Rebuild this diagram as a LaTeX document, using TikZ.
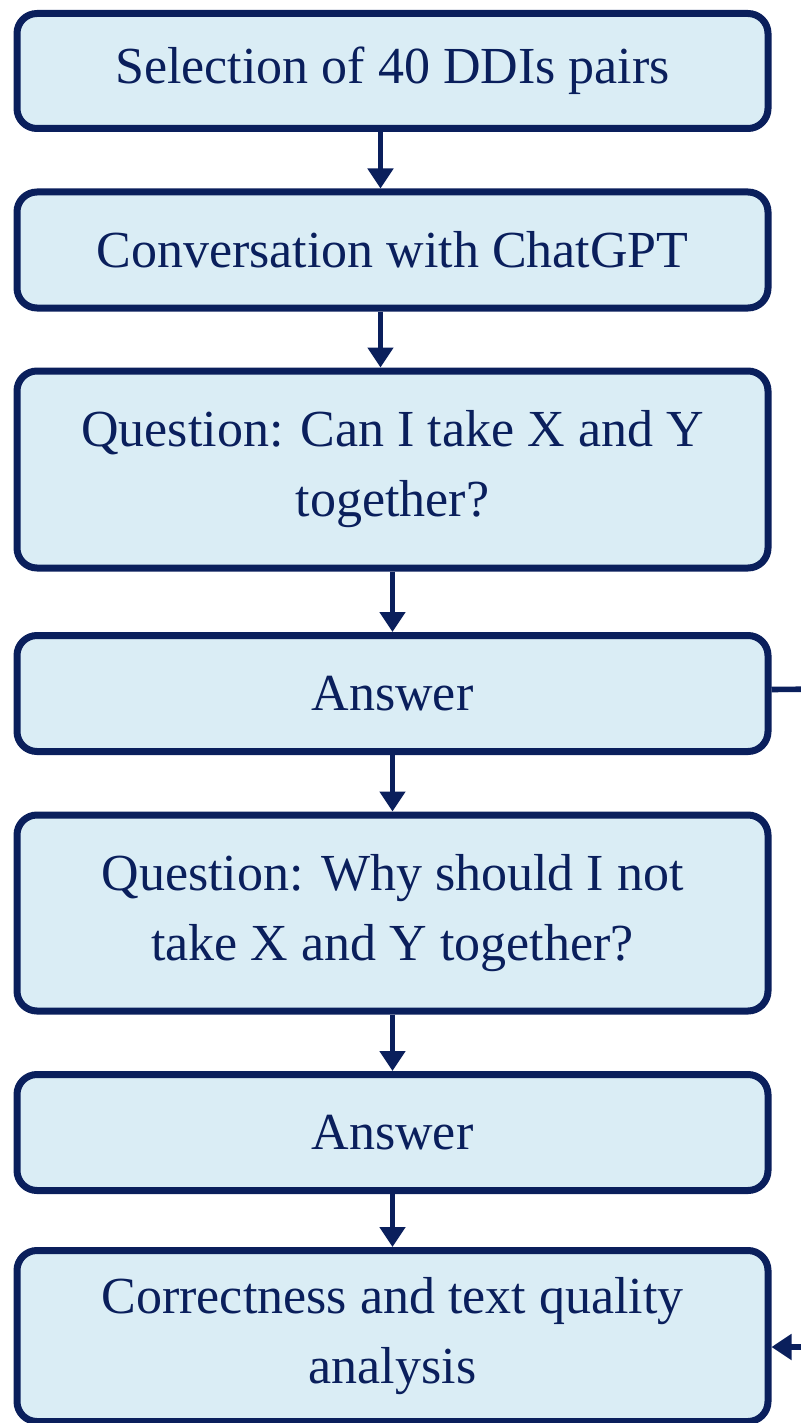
\documentclass[tikz,border=0pt]{standalone}
\usepackage{fontspec}
\setmainfont{Liberation Serif}
\usetikzlibrary{arrows.meta}

\definecolor{navy}{HTML}{0A1F5C}
\definecolor{paleblue}{HTML}{DAEDF5}

\begin{document}
\begin{tikzpicture}
[
	x=0.5pt, y=-0.5pt,
	box/.style={draw=navy,fill=paleblue,line width=3.5pt,rounded corners=10pt,
		minimum width=375.5pt,align=center,text=navy,
		font=\fontsize{26}{35}\selectfont,inner sep=0pt},
	arr/.style={draw=navy,line width=2.8pt,-{Triangle[length=10pt,width=12.5pt]}}
]

	\useasboundingbox (0,0) rectangle (801,1423);

	% boxes
	\node[box,minimum height=57.5pt] (sel) at (392.5,71) {Selection of 40 DDIs pairs};
	\node[box,minimum height=58pt] (conv) at (392.5,250) {Conversation with ChatGPT};
	\node[box,minimum height=98.5pt] (qcan) at (392.5,469.5) {Question: Can I take X and Y\\together?};
	\node[box,minimum height=58pt] (ans1) at (392.5,693.5) {Answer};
	\node[box,minimum height=98pt] (qwhy) at (392.5,913) {Question: Why should I not\\take X and Y together?};
	\node[box,minimum height=58pt] (ans2) at (392.5,1132.5) {Answer};
	\node[box,minimum height=85.5pt] (corr) at (392.5,1336) {Correctness and text quality\\analysis};

	% arrows
	\draw[arr] ([xshift=-6pt]sel.south) -- ([xshift=-6pt]conv.north);
	\draw[arr] ([xshift=-6pt]conv.south) -- ([xshift=-6pt]qcan.north);
	\draw[arr] (qcan) -- (ans1);
	\draw[arr] (ans1) -- (qwhy);
	\draw[arr] (qwhy) -- (ans2);
	\draw[arr] (ans2) -- (corr);

	% side connector
	\coordinate (side) at (830,689);
	\draw[arr] ([yshift=2pt]ans1.east) -- (side) |- ([yshift=-5.5pt]corr.east);

\end{tikzpicture}
\end{document}
